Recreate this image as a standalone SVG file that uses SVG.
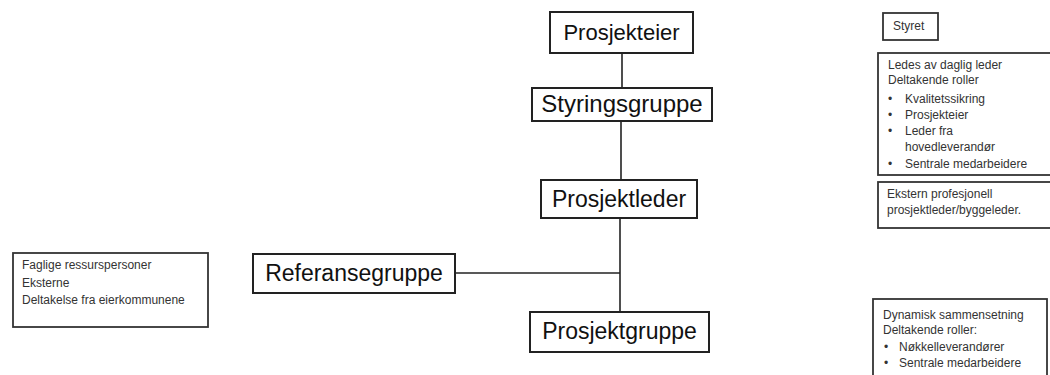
<svg xmlns="http://www.w3.org/2000/svg" width="1050" height="375" viewBox="0 0 1050 375">
<style>
.box{fill:#fff;stroke:#222;stroke-width:2}
.sbox{fill:#fff;stroke:#333;stroke-width:1.8}
.main{font-family:"Liberation Sans",Arial,sans-serif;fill:#111}
.small{font-family:"Liberation Sans",Arial,sans-serif;font-size:12px;fill:#333}
.conn{stroke:#222;stroke-width:1.6;fill:none}
</style>
<rect width="1050" height="375" fill="#fff"/>
<g id="connectors">
<line class="conn" x1="622" y1="53" x2="622" y2="88"/>
<line class="conn" x1="621" y1="121" x2="621" y2="180"/>
<line class="conn" x1="620" y1="218" x2="620" y2="312"/>
<line class="conn" x1="455" y1="273" x2="620" y2="273"/>
</g>
<g id="prosjekteier">
<rect class="box" x="550" y="12" width="143" height="41"/>
<text class="main" x="621.5" y="40" font-size="22" text-anchor="middle">Prosjekteier</text>
</g>
<g id="styringsgruppe">
<rect class="box" x="532" y="88" width="180" height="33"/>
<text class="main" x="622" y="112" font-size="24" text-anchor="middle">Styringsgruppe</text>
</g>
<g id="prosjektleder">
<rect class="box" x="541" y="180" width="156" height="38"/>
<text class="main" x="619" y="207" font-size="23" text-anchor="middle">Prosjektleder</text>
</g>
<g id="referansegruppe">
<rect class="box" x="253" y="254" width="202" height="39"/>
<text class="main" x="354" y="281" font-size="23" text-anchor="middle">Referansegruppe</text>
</g>
<g id="prosjektgruppe">
<rect class="box" x="530" y="312" width="179" height="40"/>
<text class="main" x="619.5" y="339" font-size="23" text-anchor="middle">Prosjektgruppe</text>
</g>
<g id="ressurser">
<rect class="sbox" x="13" y="253" width="195" height="74"/>
<text class="small"><tspan x="22" y="269">Faglige ressurspersoner</tspan><tspan x="22" y="287">Eksterne</tspan><tspan x="22" y="304">Deltakelse fra eierkommunene</tspan></text>
</g>
<g id="styret">
<rect class="sbox" x="883" y="13" width="55" height="27"/>
<text class="small" x="893" y="30">Styret</text>
</g>
<g id="styringsgruppe-info">
<rect class="sbox" x="878" y="53" width="180" height="122"/>
<text class="small"><tspan x="888" y="69">Ledes av daglig leder</tspan><tspan x="888" y="84">Deltakende roller</tspan></text>
<text class="small"><tspan x="888" y="103">•</tspan><tspan x="905" y="103">Kvalitetssikring</tspan><tspan x="888" y="119">•</tspan><tspan x="905" y="119">Prosjekteier</tspan><tspan x="888" y="135">•</tspan><tspan x="905" y="135">Leder fra</tspan><tspan x="905" y="151">hovedleverandør</tspan><tspan x="888" y="168">•</tspan><tspan x="905" y="168">Sentrale medarbeidere</tspan></text>
</g>
<g id="prosjektleder-info">
<rect class="sbox" x="878" y="182" width="180" height="46"/>
<text class="small"><tspan x="887" y="198">Ekstern profesjonell</tspan><tspan x="887" y="214">prosjektleder/byggeleder.</tspan></text>
</g>
<g id="prosjektgruppe-info">
<rect class="sbox" x="873" y="299" width="174" height="90"/>
<text class="small"><tspan x="883" y="319">Dynamisk sammensetning</tspan><tspan x="883" y="334">Deltakende roller:</tspan></text>
<text class="small"><tspan x="884" y="351">•</tspan><tspan x="899" y="351">Nøkkelleverandører</tspan><tspan x="884" y="367">•</tspan><tspan x="899" y="367">Sentrale medarbeidere</tspan></text>
</g>
</svg>
